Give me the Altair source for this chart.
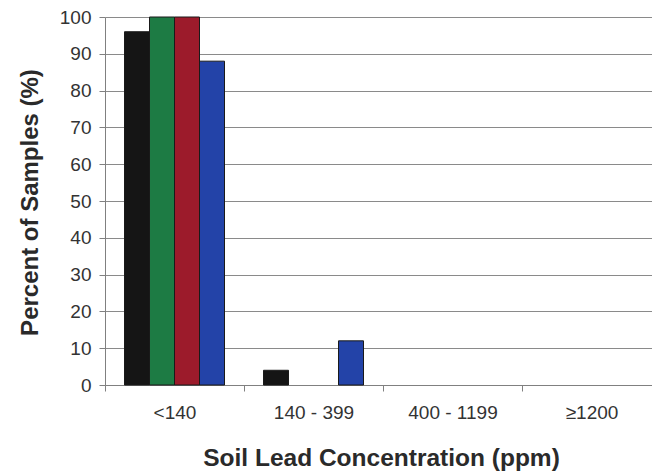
import altair as alt
import pandas as pd

categories = ["<140", "140 - 399", "400 - 1199", "≥1200"]
series_names = ["Series 1", "Series 2", "Series 3", "Series 4"]
series_colors = ["#151515", "#1d7b44", "#9c1b2b", "#2343a8"]
s1 = [96, 4, 0, 0]
s2 = [100, 0, 0, 0]
s3 = [100, 0, 0, 0]
s4 = [88, 12, 0, 0]
y_ticks = list(range(0, 101, 10))

rows = []
for name, vals in zip(series_names, [s1, s2, s3, s4]):
    for cat, v in zip(categories, vals):
        rows.append({"category": cat, "series": name, "value": v})
df = pd.DataFrame(rows)

FONT = "Liberation Sans"

chart = (
    alt.Chart(df)
    .transform_filter("datum.value > 0")
    .mark_bar(stroke="#1a1a1a", strokeWidth=1)
    .encode(
        x=alt.X(
            "category:N",
            sort=categories,
            scale=alt.Scale(domain=categories, range=[0, 556], paddingInner=0, paddingOuter=0),
            axis=alt.Axis(
                title="Soil Lead Concentration (ppm)",
                labelAngle=0,
                labelFont=FONT,
                labelFontSize=19,
                labelColor="#333333",
                labelPadding=12,
                tickBand="extent",
                tickSize=6,
                tickColor="#808080",
                domainColor="#808080",
                titleFont=FONT,
                titleFontSize=24.5,
                titleFontWeight="bold",
                titleColor="#2a2a2a",
                titleX=276,
                titleY=80,
                titleBaseline="alphabetic",
                titleAlign="center",
            ),
        ),
        xOffset=alt.XOffset(
            "series:N",
            scale=alt.Scale(domain=series_names, paddingInner=0, paddingOuter=0.78),
        ),
        y=alt.Y(
            "value:Q",
            scale=alt.Scale(domain=[0, 100], nice=False),
            axis=alt.Axis(
                title="Percent of Samples (%)",
                values=y_ticks,
                labelFont=FONT,
                labelFontSize=19,
                labelColor="#333333",
                labelPadding=8,
                tickSize=6,
                tickColor="#808080",
                domainColor="#808080",
                gridColor="#8a8a8a",
                gridWidth=1,
                titleFont=FONT,
                titleFontSize=24,
                titleFontWeight="bold",
                titleColor="#2a2a2a",
                titleAngle=-90,
                titleX=-68,
                titleY=185,
                titleBaseline="alphabetic",
                titleAlign="center",
            ),
        ),
        color=alt.Color(
            "series:N",
            scale=alt.Scale(domain=series_names, range=series_colors),
            legend=None,
        ),
    )
    .properties(
        width=547,
        height=368,
        autosize=alt.AutoSizeParams(type="none"),
        padding={"left": 105, "top": 17, "right": 0, "bottom": 88},
        background="white",
    )
    .configure_view(stroke=None)
)

chart.save("out.html", embed_options={"renderer": "svg", "actions": False})
